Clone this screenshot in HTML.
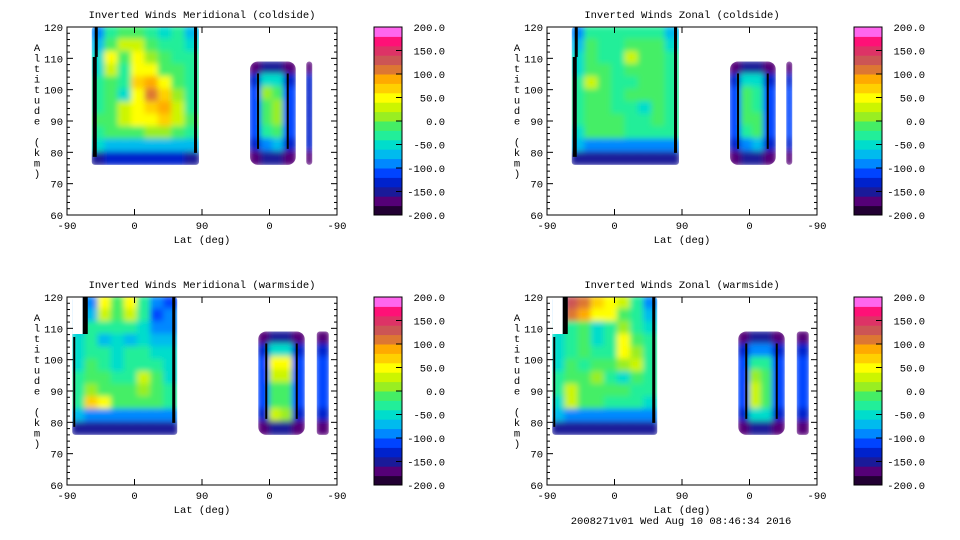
<!DOCTYPE html>
<html><head><meta charset="utf-8"><style>
body{margin:0;background:#fff;width:960px;height:540px;overflow:hidden}
svg{display:block}
text{font-family:"Liberation Mono","DejaVu Sans Mono",monospace;font-size:10.5px;fill:#000}
</style></head><body>
<svg id="s" width="960" height="540">
<defs><filter id="bl" x="-10%" y="-10%" width="120%" height="120%"><feGaussianBlur stdDeviation="3"/></filter></defs>
</svg>
<script>
const titles=["Inverted Winds Meridional (coldside)","Inverted Winds Zonal (coldside)","Inverted Winds Meridional (warmside)","Inverted Winds Zonal (warmside)"];
const altTicks=[60,70,80,90,100,110,120];
const latTickLabels=["-90","0","90","0","-90"];
const cbTicks=[200,150,100,50,0,-50,-100,-150,-200];
const bandColors=["#220033","#550077","#1a1a99","#0022cc","#0044ff","#0088ff","#00bbee","#00ddcc","#22ee99","#44ee66","#99ee22","#ccf500","#ffff00","#ffd000","#ffaa00","#dd7733","#cc5555","#dd3366","#ff1177","#ff66ee"];
const leftRegions=[[33,176,76,120],[33,176,76,120],[7,147,76,120],[7,147,76,120]];
const rightRegions=[[244,305,76,109],[244,305,76,109],[255,317,76,109],[255,317,76,109]];
const stripRegions=[[319,327,76,109],[319,327,76,109],[333,349,76,109],[333,349,76,109]];
const left1=[[-100,-30,-10,-20,-40,-50,-40,-80],[-80,-10,20,30,-10,-30,-40,-60],[-60,40,-20,40,10,-20,-30,-40],[-60,30,-40,50,40,-10,-20,-40],[-40,-10,-40,60,90,40,-10,-40],[-40,-20,-50,40,100,70,10,-30],[-30,-10,30,40,70,80,20,-30],[-20,-10,20,40,50,60,30,-20],[-30,-20,-10,-10,0,0,-10,-30],[-60,-70,-70,-70,-70,-70,-70,-80],[-150,-140,-140,-140,-140,-140,-140,-150]];
const left2=[[-100,-40,-40,-30,-30,-30,-30,-80],[-80,-20,-30,-40,-10,-10,-20,-60],[-60,-20,-30,-40,20,-10,-10,-40],[-50,-10,-10,-40,-10,-10,-10,-30],[-40,30,-10,-30,-30,-10,-10,-30],[-40,-10,-20,-30,-20,-20,-10,-30],[-40,-10,-10,-30,-40,-60,-20,-30],[-40,-10,-10,-10,-40,-40,-20,-30],[-50,-20,-10,-20,-30,-30,-30,-40],[-80,-90,-90,-90,-90,-90,-90,-90],[-150,-150,-150,-150,-150,-150,-150,-160]];
const left3=[[-100,-100,40,-10,40,-40,-100,-120],[-100,-80,30,-20,30,-30,-110,-100],[-80,-40,-40,-30,-40,-60,-100,-90],[-60,-40,-80,-50,-80,-50,-80,-80],[-60,-30,-40,-50,-40,-40,-50,-60],[-50,-20,-30,-50,-40,-30,-30,-60],[-40,-10,-20,-30,-30,20,-10,-50],[-40,0,-10,-10,-10,0,-10,-40],[-40,60,40,-10,-10,-10,-20,-40],[-80,-90,-90,-90,-90,-90,-90,-90],[-150,-150,-150,-150,-150,-150,-150,-160]];
const left4=[[-100,120,110,60,40,20,-40,-100],[-100,100,80,40,40,-10,-40,-80],[-60,-30,-20,-60,-40,0,-30,-60],[-60,-40,-20,-60,-40,40,-20,-40],[-50,-30,-10,-30,-30,40,10,-40],[-50,-10,-30,-10,-20,10,20,-40],[-40,-10,-20,0,-30,-60,-10,-40],[-40,20,-20,-20,-20,-20,-30,-40],[-50,30,-20,-20,-30,-30,-30,-50],[-80,-90,-90,-90,-90,-90,-90,-90],[-150,-150,-150,-150,-150,-150,-150,-160]];
const right1=[[-180,-160,-160,-180],[-130,-60,-60,-130],[-110,0,-10,-110],[-110,-10,10,-110],[-110,-10,0,-110],[-110,-40,-10,-110],[-130,-90,-80,-130],[-180,-160,-160,-180]];
const right2=[[-180,-160,-160,-180],[-130,-60,-60,-130],[-110,-10,-40,-110],[-110,-10,-30,-110],[-110,-10,-20,-110],[-110,-30,-10,-110],[-130,-90,-80,-130],[-180,-160,-160,-180]];
const right3=[[-180,-160,-160,-180],[-130,-60,-60,-130],[-110,50,50,-110],[-110,30,20,-110],[-110,-20,-20,-110],[-110,-20,-20,-110],[-130,20,10,-130],[-180,-160,-160,-180]];
const right4=[[-180,-160,-160,-180],[-130,-90,-90,-130],[-110,-40,-30,-110],[-110,0,-10,-110],[-110,30,-10,-110],[-110,30,-10,-110],[-130,-50,-60,-130],[-180,-160,-160,-180]];
const strip1=[-170,-140,-140,-130,-140,-140,-140,-170];
const strip2=[-170,-130,-120,-120,-120,-120,-130,-170];
const strip3=[-170,-140,-120,-120,-120,-110,-140,-170];
const strip4=[-170,-130,-110,-110,-110,-110,-130,-170];
const lefts=[left1,left2,left3,left4],rights=[right1,right2,right3,right4],strips=[strip1,strip2,strip3,strip4];

const S=document.getElementById('s'),NS='http://www.w3.org/2000/svg';
function mk(tag,attrs,parent){const e=document.createElementNS(NS,tag);for(const k in attrs)e.setAttribute(k,attrs[k]);(parent||S).appendChild(e);return e;}
function color(v){let i=Math.floor((v+200)/20);i=Math.max(0,Math.min(19,i));return bandColors[i];}

for(let pi=0;pi<4;pi++){
  const ox=(pi%2)*480,oy=Math.floor(pi/2)*270;
  const X0=67+ox,X1=337+ox,Y0=27+oy,Y1=215+oy;
  const xs=p=>X0+(p/360)*(X1-X0);
  const ys=a=>Y1-(a-60)/60*(Y1-Y0);
  const g=mk('g',{});
  
  
  const t=mk('text',{x:(X0+X1)/2,y:18+oy,'text-anchor':'middle'},g);t.textContent=titles[pi];
  
  function drawGrid(reg,grid,rx,nm){
    const cid='c'+pi+nm;
    const cp=mk('clipPath',{id:cid},g);
    const x0=xs(reg[0]),x1=xs(reg[1]),yt=ys(reg[3]),yb=ys(reg[2]);
    mk('rect',{x:x0,y:yt,width:x1-x0,height:yb-yt,rx:rx},cp);
    const cg=mk('g',{'clip-path':'url(#'+cid+')'},g);
    const ig=mk('g',{filter:'url(#bl)'},cg);
    const rows=grid.length,cols=grid[0].length;
    const cw=(x1-x0)/cols,ch=(yb-yt)/rows;
    for(let r=0;r<rows;r++)for(let c=0;c<cols;c++){
      const cell=mk('rect',{x:x0+c*cw-1,y:yt+r*ch-1,width:cw+2,height:ch+2,fill:color(grid[r][c])},ig);
      
      
    }
    return [x0,x1,yt,yb];
  }
  const L=drawGrid(leftRegions[pi],lefts[pi],3,'l');
  if(pi<2){
    mk('rect',{x:L[0]+1,y:L[2]+30,width:4,height:L[3]-L[2]-38,fill:'#000'},g);
    mk('rect',{x:L[0]+3,y:L[2],width:3,height:30,fill:'#000'},g);
  }else{
    mk('rect',{x:L[0],y:L[2],width:(L[1]-L[0])*0.1,height:37,fill:'#fff'},g);
    mk('rect',{x:L[0]+(L[1]-L[0])*0.1,y:L[2],width:5,height:37,fill:'#000'},g);
    mk('rect',{x:L[0]+1,y:L[2]+40,width:2,height:L[3]-L[2]-48,fill:'#000'},g);
  }
  mk('rect',{x:L[1]-5,y:L[2],width:3,height:L[3]-L[2]-12,fill:'#000'},g);
  const R=drawGrid(rightRegions[pi],rights[pi],8,'r');
  mk('rect',{x:R[0]+7,y:R[2]+12,width:2,height:R[3]-R[2]-28,fill:'#000'},g);
  mk('rect',{x:R[1]-9,y:R[2]+12,width:2,height:R[3]-R[2]-28,fill:'#000'},g);
  const st=stripRegions[pi];
  drawGrid(st,strips[pi].map(v=>[v]),3,'s');
  mk('rect',{x:X0,y:Y0,width:X1-X0,height:Y1-Y0,fill:'none',stroke:'#000','stroke-width':1},g);
  for(let a=60;a<=120;a+=2){
    const y=ys(a),len=(a%10===0)?6:3;
    mk('line',{x1:X0,y1:y,x2:X0+len,y2:y,stroke:'#000'},g);
    mk('line',{x1:X1,y1:y,x2:X1-len,y2:y,stroke:'#000'},g);
  }
  altTicks.forEach(a=>{const tt=mk('text',{x:X0-4,y:ys(a)+4,'text-anchor':'end'},g);tt.textContent=a;
    });
  latTickLabels.forEach((lb,i)=>{const x=xs(i*90);
    mk('line',{x1:x,y1:Y1,x2:x,y2:Y1-6,stroke:'#000'},g);mk('line',{x1:x,y1:Y0,x2:x,y2:Y0+6,stroke:'#000'},g);
    const tt=mk('text',{x:x,y:Y1+14,'text-anchor':'middle'},g);tt.textContent=lb;
    });
  const xl=mk('text',{x:(X0+X1)/2,y:Y1+28,'text-anchor':'middle'},g);xl.textContent='Lat (deg)';
  
  const yl=mk('text',{x:37+ox,y:Y0+24,'text-anchor':'middle'},g);
  
  'Altitude (km)'.split('').forEach((ch,i)=>{const ts=mk('tspan',{x:37+ox,y:Y0+24+i*10.5},yl);ts.textContent=ch;});
  const CX=374+ox,CW=28;
  const cb=mk('g',{},g);
  for(let i=0;i<20;i++){
    const v1=-200+i*20,v2=v1+20;
    const ya=Y1-(v2+200)/400*(Y1-Y0),yb=Y1-(v1+200)/400*(Y1-Y0);
    mk('rect',{x:CX,y:ya,width:CW,height:yb-ya+0.5,fill:bandColors[i]},cb);
  }
  mk('rect',{x:CX,y:Y0,width:CW,height:Y1-Y0,fill:'none',stroke:'#000'},cb);
  cbTicks.forEach(v=>{const y=Y1-(v+200)/400*(Y1-Y0);
    mk('line',{x1:CX+CW-6,y1:y,x2:CX+CW,y2:y,stroke:'#000'},cb);
    const tt=mk('text',{x:CX+CW+43,y:y+4,'text-anchor':'end'},cb);tt.textContent=v.toFixed(1);
    });
}
const f=mk('text',{x:681,y:524,'text-anchor':'middle'});f.textContent='2008271v01 Wed Aug 10 08:46:34 2016';

</script>
</body></html>
